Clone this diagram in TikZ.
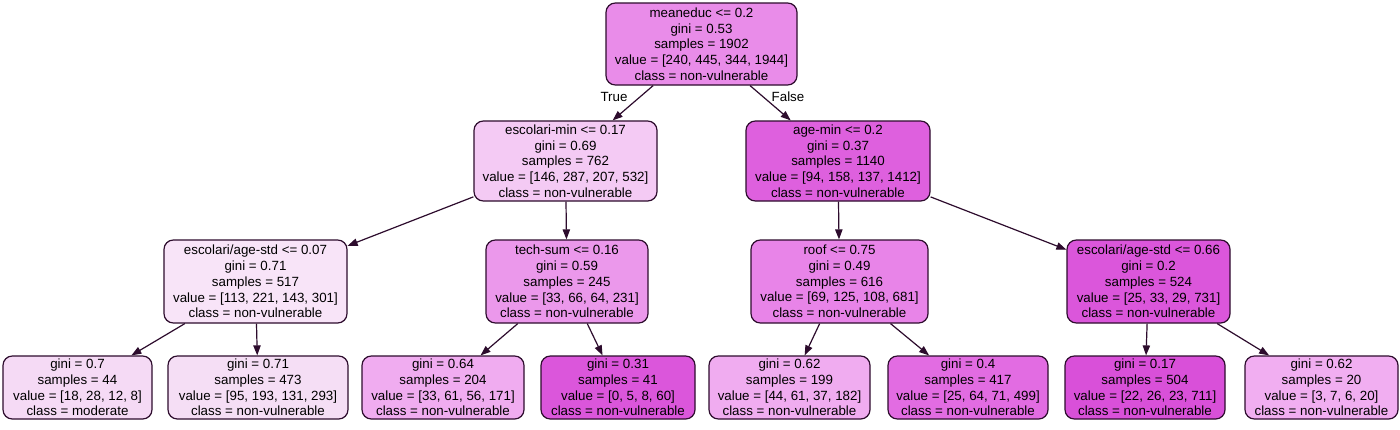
\documentclass[tikz,border=0pt]{standalone}
\usepackage{fontspec}
\setmainfont{Liberation Sans}
\usetikzlibrary{arrows.meta}
\definecolor{edgec}{RGB}{45,12,45}
\definecolor{c0}{RGB}{233,140,233}
\definecolor{c1}{RGB}{244,202,244}
\definecolor{c2}{RGB}{222,96,222}
\definecolor{c3}{RGB}{248,228,248}
\definecolor{c4}{RGB}{235,152,235}
\definecolor{c5}{RGB}{232,132,232}
\definecolor{c6}{RGB}{219,86,219}
\definecolor{d1}{RGB}{245,218,245}
\definecolor{d2}{RGB}{245,222,245}
\definecolor{d3}{RGB}{240,172,240}
\definecolor{d4}{RGB}{219,86,219}
\definecolor{d5}{RGB}{240,172,240}
\definecolor{d6}{RGB}{226,108,226}
\definecolor{d7}{RGB}{217,80,217}
\definecolor{d8}{RGB}{241,174,241}
\tikzset{
  tnode/.style={draw=edgec, line width=0.9pt, rounded corners=7pt, align=center,
    inner sep=0pt, font=\fontsize{10}{11.8}\selectfont, text=black},
  wd/.style={minimum width=#1*0.75pt},
  ht/.style={minimum height=#1*0.75pt},
  conn/.style={draw=edgec, line width=0.9pt, -{Triangle[length=7.5pt,width=5.5pt]}},
  elabel/.style={font=\fontsize{10}{11.8}\selectfont, text=black, inner sep=0pt}
}
\begin{document}
\begin{tikzpicture}[x=0.75pt,y=-0.75pt]
\useasboundingbox (0,0) rectangle (1400,429);
\fill[white] (0,0) rectangle (1400,429);
% root
\node[tnode, fill=c0, wd=191, ht=82] (r) at (701.5,44) {meaneduc <= 0.2\\gini = 0.53\\samples = 1902\\value = [240, 445, 344, 1944]\\class = non-vulnerable};
% level 1
\node[tnode, fill=c1, wd=183, ht=80] (a) at (565.5,161) {escolari-min <= 0.17\\gini = 0.69\\samples = 762\\value = [146, 287, 207, 532]\\class = non-vulnerable};
\node[tnode, fill=c2, wd=184, ht=80] (b) at (838,161) {age-min <= 0.2\\gini = 0.37\\samples = 1140\\value = [94, 158, 137, 1412]\\class = non-vulnerable};
% level 2
\node[tnode, fill=c3, wd=183, ht=83] (aa) at (255.5,281.5) {escolari/age-std <= 0.07\\gini = 0.71\\samples = 517\\value = [113, 221, 143, 301]\\class = non-vulnerable};
\node[tnode, fill=c4, wd=162, ht=83] (ab) at (567,281.5) {tech-sum <= 0.16\\gini = 0.59\\samples = 245\\value = [33, 66, 64, 231]\\class = non-vulnerable};
\node[tnode, fill=c5, wd=177, ht=83] (ba) at (839.5,281.5) {roof <= 0.75\\gini = 0.49\\samples = 616\\value = [69, 125, 108, 681]\\class = non-vulnerable};
\node[tnode, fill=c6, wd=163, ht=83] (bb) at (1148.5,281.5) {escolari/age-std <= 0.66\\gini = 0.2\\samples = 524\\value = [25, 33, 29, 731]\\class = non-vulnerable};
% leaves
\node[tnode, fill=d1, wd=149, ht=63] (l1) at (77.5,387.5) {gini = 0.7\\samples = 44\\value = [18, 28, 12, 8]\\class = moderate};
\node[tnode, fill=d2, wd=180, ht=63] (l2) at (258,387.5) {gini = 0.71\\samples = 473\\value = [95, 193, 131, 293]\\class = non-vulnerable};
\node[tnode, fill=d3, wd=162, ht=63] (l3) at (443,387.5) {gini = 0.64\\samples = 204\\value = [33, 61, 56, 171]\\class = non-vulnerable};
\node[tnode, fill=d4, wd=154, ht=63] (l4) at (618,387.5) {gini = 0.31\\samples = 41\\value = [0, 5, 8, 60]\\class = non-vulnerable};
\node[tnode, fill=d5, wd=161, ht=63] (l5) at (789.5,387.5) {gini = 0.62\\samples = 199\\value = [44, 61, 37, 182]\\class = non-vulnerable};
\node[tnode, fill=d6, wd=160, ht=63] (l6) at (968,387.5) {gini = 0.4\\samples = 417\\value = [25, 64, 71, 499]\\class = non-vulnerable};
\node[tnode, fill=d7, wd=160, ht=63] (l7) at (1145,387.5) {gini = 0.17\\samples = 504\\value = [22, 26, 23, 711]\\class = non-vulnerable};
\node[tnode, fill=d8, wd=153, ht=63] (l8) at (1321.5,387.5) {gini = 0.62\\samples = 20\\value = [3, 7, 6, 20]\\class = non-vulnerable};
% edges
\draw[conn] (r) -- (a);
\draw[conn] (r) -- (b);
\draw[conn] (a) -- (aa);
\draw[conn] (a) -- (ab);
\draw[conn] (b) -- (ba);
\draw[conn] (b) -- (bb);
\draw[conn] (aa) -- (l1);
\draw[conn] (aa) -- (l2);
\draw[conn] (ab) -- (l3);
\draw[conn] (ab) -- (l4);
\draw[conn] (ba) -- (l5);
\draw[conn] (ba) -- (l6);
\draw[conn] (bb) -- (l7);
\draw[conn] (bb) -- (l8);
% edge labels
\node[elabel] (tl) at (614,97) {True};
\node[elabel] (fl) at (788,97) {False};
\end{tikzpicture}
\end{document}
